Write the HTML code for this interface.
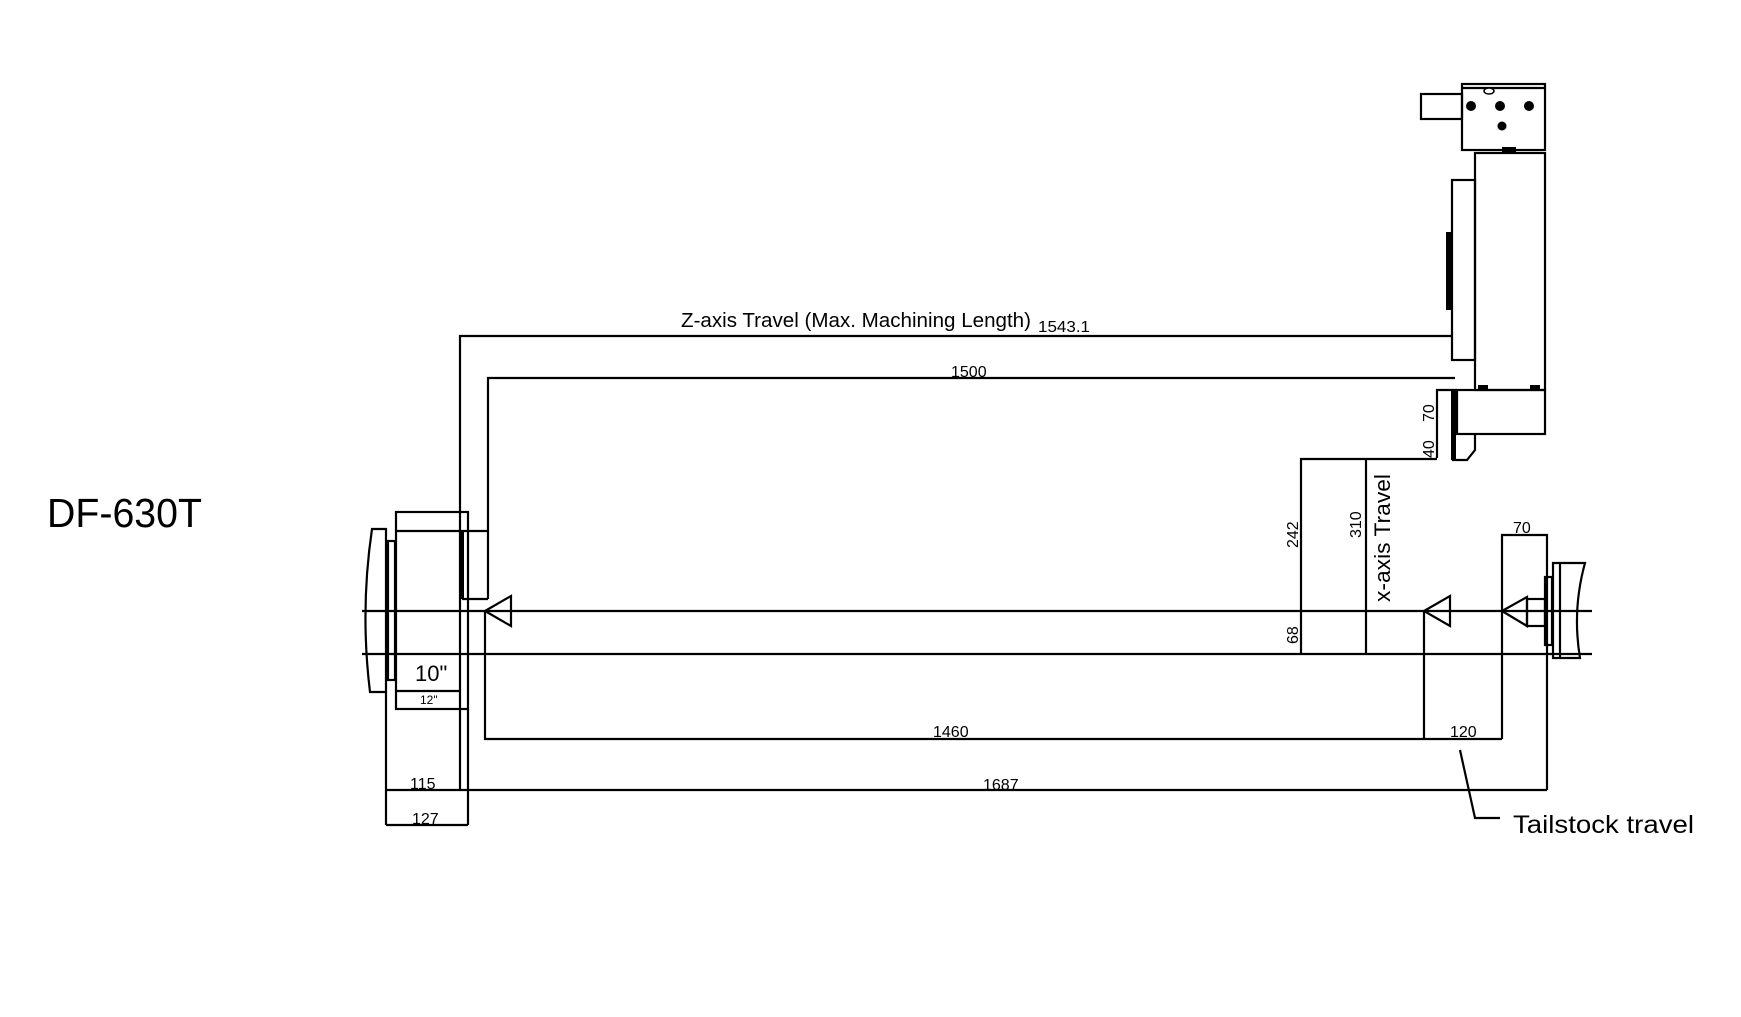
<!DOCTYPE html>
<html><head><meta charset="utf-8"><style>
html,body{margin:0;padding:0;background:#fff;}
svg{display:block;}
text{font-family:"Liberation Sans",sans-serif;fill:#000;}
</style></head><body>
<svg width="1741" height="1017" viewBox="0 0 1741 1017" xmlns="http://www.w3.org/2000/svg">
<rect width="1741" height="1017" fill="#fff"/>
<g fill="none" stroke="#000" stroke-width="2.2">
<line x1="362" y1="611" x2="1592" y2="611"/>
<line x1="362" y1="654" x2="1592" y2="654"/>
<polyline points="460,790 460,336 1452,336"/>
<polyline points="488,599 488,378 1455,378"/>
<rect x="396" y="512" width="72" height="197"/>
<line x1="396" y1="531" x2="488" y2="531"/>
<line x1="462" y1="599" x2="488" y2="599"/>
<line x1="396" y1="691" x2="460" y2="691"/>
<line x1="468" y1="709" x2="468" y2="825"/>
<path d="M372,529 L386,529 L386,692 L370,692 Q360,610 372,529 Z"/>
<rect x="388" y="541" width="7" height="139"/>
<line x1="386" y1="692" x2="386" y2="825"/>
<line x1="386" y1="790" x2="1547" y2="790"/>
<line x1="386" y1="825" x2="468" y2="825"/>
<polygon points="485,611 511,596 511,626"/>
<polyline points="485,611 485,739 1502,739"/>
<rect x="1462" y="84" width="83" height="66"/>
<line x1="1462" y1="88" x2="1545" y2="88"/>
<rect x="1421" y="94" width="41" height="25"/>
<rect x="1475" y="153" width="70" height="237"/>
<rect x="1452" y="180" width="23" height="180"/>
<rect x="1457" y="390" width="88" height="44"/>
<polyline points="1437,458 1437,390 1457,390"/>
<path d="M1453,434 L1453,460 L1467,460 L1475,450 L1475,434"/>
<polyline points="1301,654 1301,459 1437,459"/>
<line x1="1366" y1="459" x2="1366" y2="654"/>
<polygon points="1424,611 1450,596 1450,626"/>
<line x1="1424" y1="611" x2="1424" y2="739"/>
<polyline points="1502,739 1502,535 1547,535 1547,790"/>
<polyline points="1502,611 1527,597 1527,626 1502,611"/>
<rect x="1527" y="599" width="18" height="27"/>
<rect x="1545" y="577" width="7" height="68"/>
<path d="M1553,563 L1585,563 Q1572,610 1580,658 L1553,658 Z"/>
<line x1="1560" y1="563" x2="1560" y2="658"/>
<polyline points="1460,750 1475,818 1500,818"/>
</g>
<g fill="#000">
<rect x="460" y="531" width="4" height="68"/>
<rect x="1446" y="232" width="5" height="78"/>
<rect x="1451" y="390" width="5" height="70"/>
<circle cx="1471" cy="106" r="5"/><circle cx="1500" cy="106" r="5"/><circle cx="1529" cy="106" r="5"/><circle cx="1502" cy="126" r="4.5"/>
<rect x="1502" y="147" width="14" height="6"/><rect x="1478" y="385" width="10" height="5"/><rect x="1530" y="385" width="10" height="5"/>
</g>
<ellipse cx="1489" cy="91" rx="5" ry="3" fill="#fff" stroke="#000" stroke-width="1.5"/>
<text x="47" y="527" font-size="41" textLength="155" lengthAdjust="spacingAndGlyphs">DF-630T</text>
<text x="681" y="327" font-size="20" textLength="350" lengthAdjust="spacingAndGlyphs">Z-axis Travel (Max. Machining Length)</text>
<text x="1038" y="332" font-size="16" textLength="52" lengthAdjust="spacingAndGlyphs">1543.1</text>
<text x="951" y="377" font-size="16">1500</text>
<text x="933" y="737" font-size="16">1460</text>
<text x="983" y="790" font-size="16">1687</text>
<text x="1450" y="737" font-size="16">120</text>
<text x="1513" y="533" font-size="16">70</text>
<text x="410" y="789" font-size="16">115</text>
<text x="412" y="824" font-size="16">127</text>
<text x="415" y="681" font-size="22" font-family="Liberation Serif">10"</text>
<text x="420" y="704" font-size="12" font-family="Liberation Serif">12"</text>
<text x="1513" y="833" font-size="25" textLength="181" lengthAdjust="spacingAndGlyphs">Tailstock travel</text>
<text transform="translate(1298,548) rotate(-90)" font-size="16">242</text>
<text transform="translate(1298,644) rotate(-90)" font-size="16">68</text>
<text transform="translate(1361,538) rotate(-90)" font-size="16">310</text>
<text transform="translate(1390,602) rotate(-90)" font-size="22" textLength="128" lengthAdjust="spacingAndGlyphs">x-axis Travel</text>
<text transform="translate(1434,422) rotate(-90)" font-size="16">70</text>
<text transform="translate(1434,458) rotate(-90)" font-size="16">40</text>
</svg>
</body></html>
